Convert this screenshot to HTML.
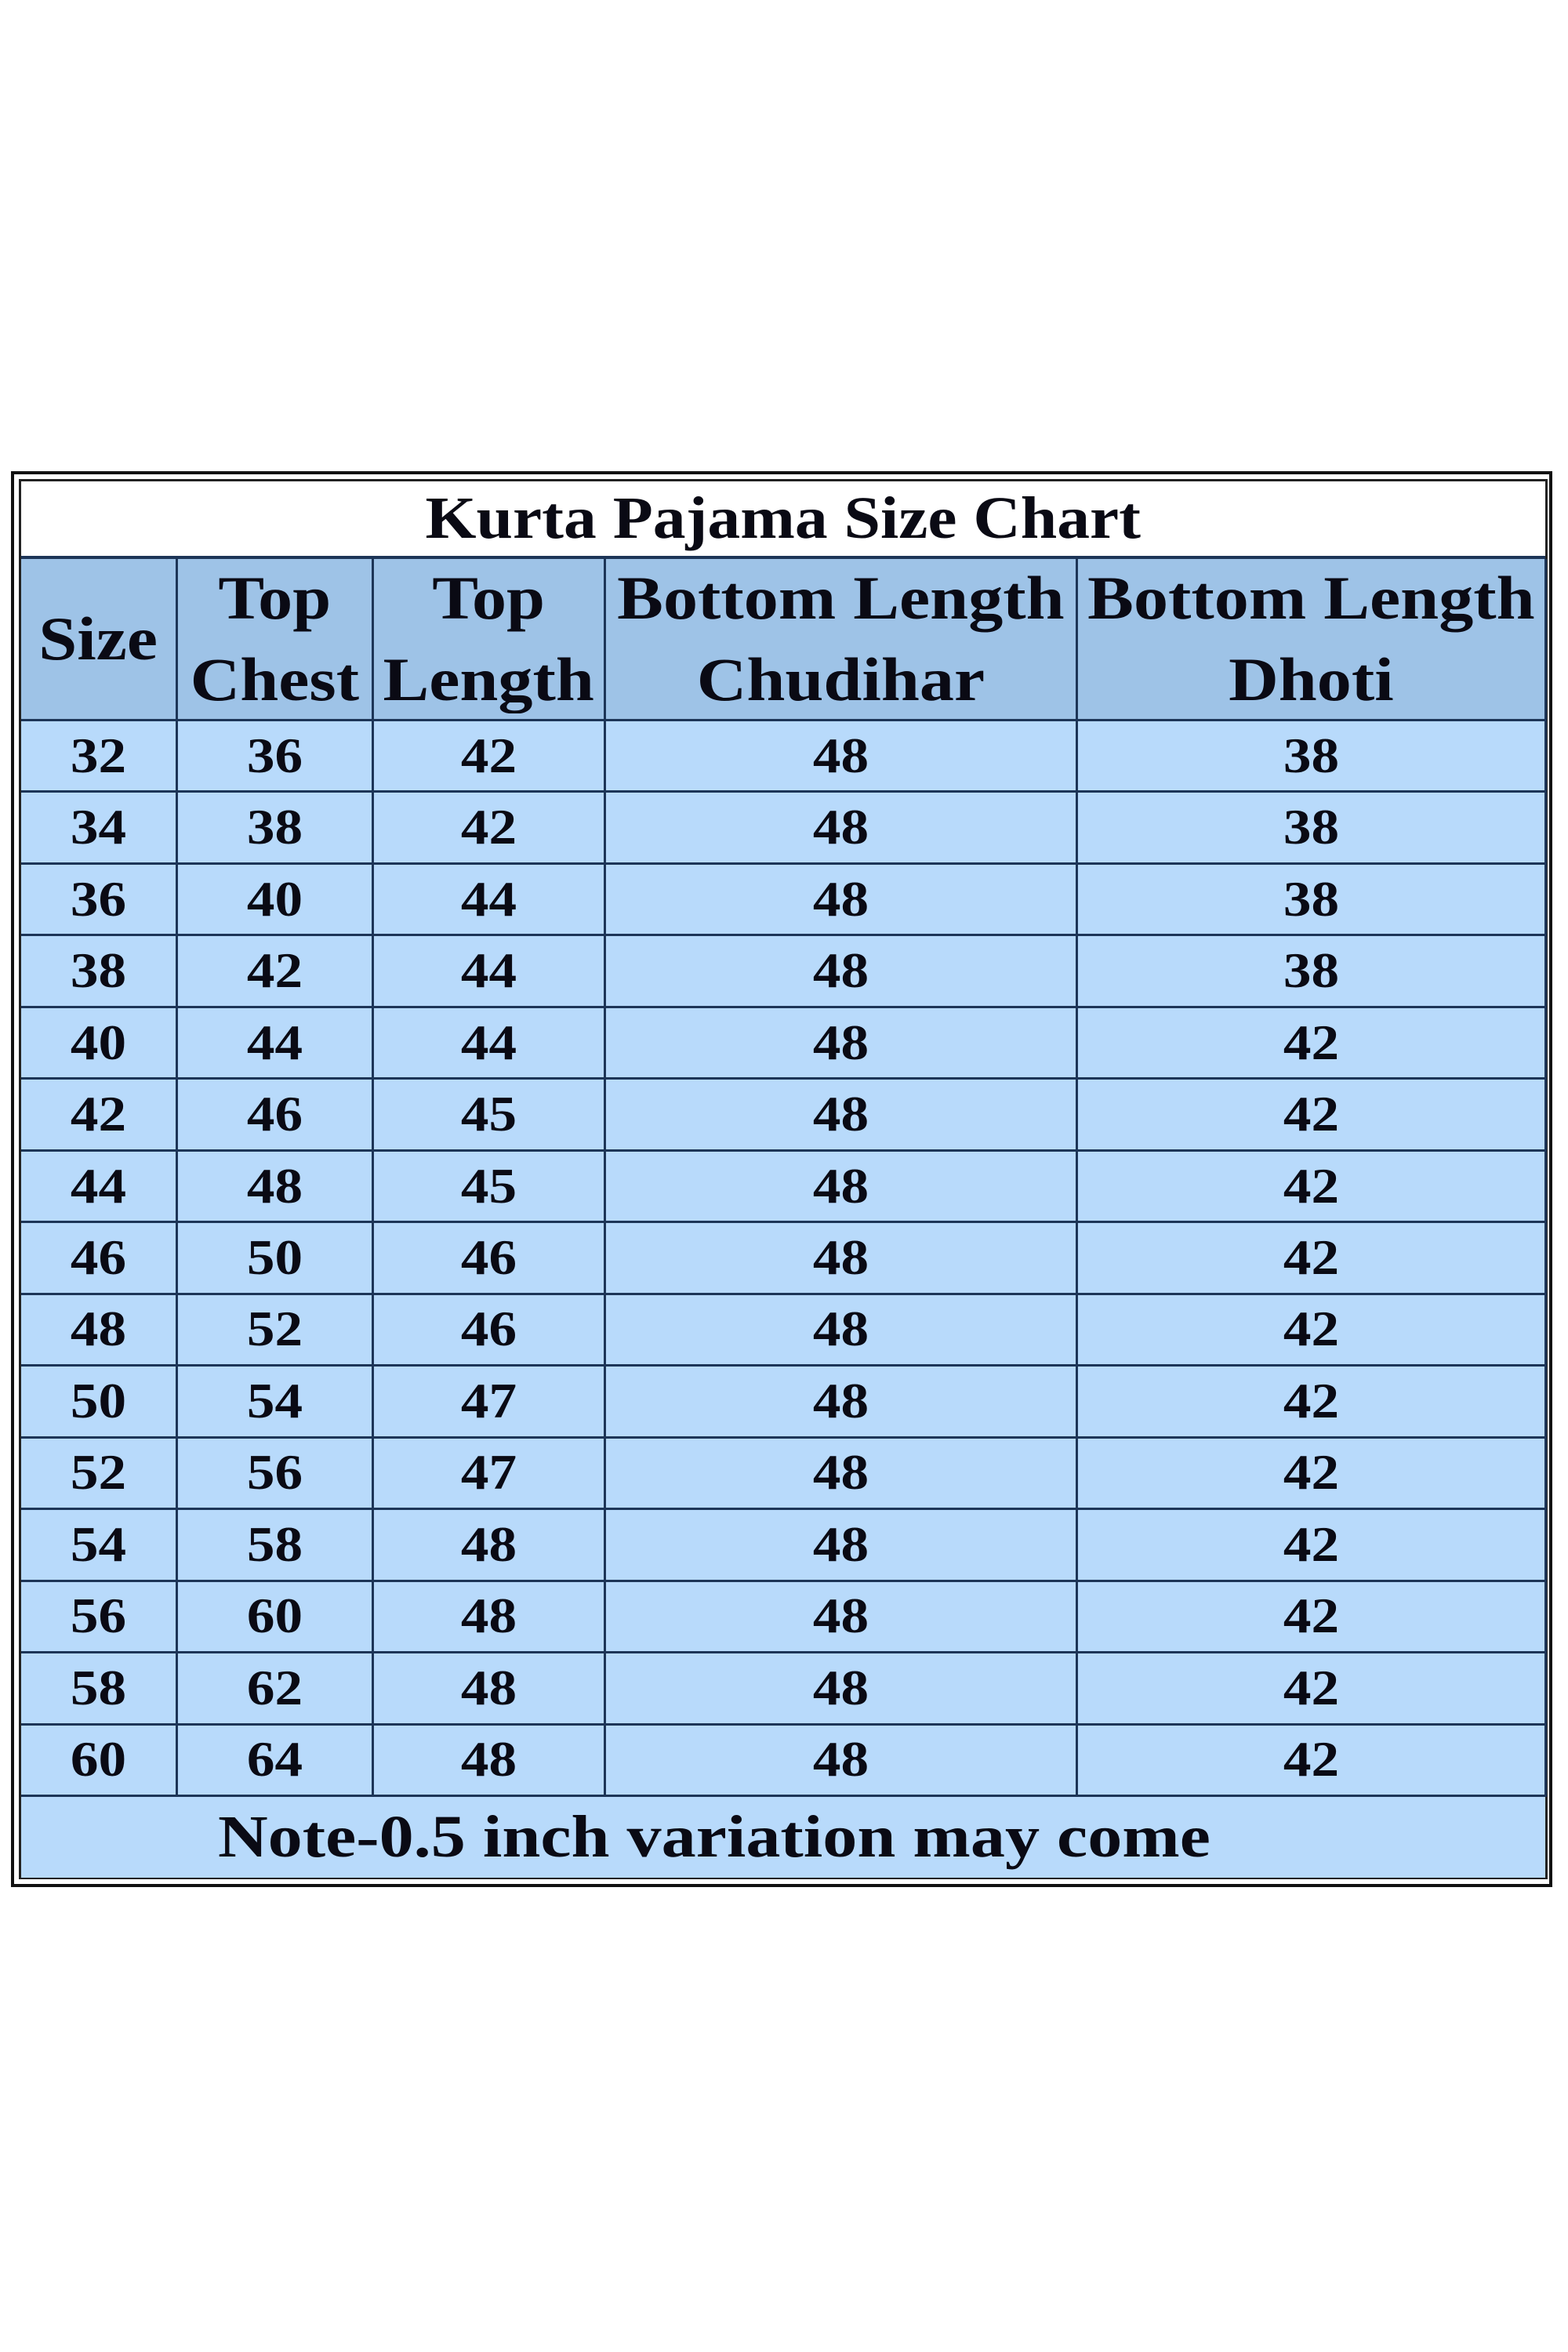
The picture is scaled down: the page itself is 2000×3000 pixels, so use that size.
<!DOCTYPE html>
<html><head><meta charset="utf-8"><style>
body{margin:0;width:2000px;height:3000px;background:#fff;position:relative;overflow:hidden;font-family:"Liberation Serif",serif;font-weight:bold;color:#0a0a14}
.outer{position:absolute;left:14px;top:601px;width:1966px;height:1806px;border:4px solid #111;box-sizing:border-box}
.inner{position:absolute;left:24px;top:611px;width:1950px;height:1786px;border:3px solid #222;box-sizing:border-box;background:#fff}
.c{position:absolute;display:flex;align-items:center;justify-content:center;text-align:center;box-sizing:border-box;border-right:3px solid #1d3557;border-bottom:3px solid #1d3557}
.h{background:#9ec3e7;font-size:78px;line-height:104px}
.d{background:#b8dafb;font-size:63px}
.s{display:inline-block;transform:scaleX(1.13)}
</style></head><body>
<div class="outer"></div>
<div class="inner"></div>
<div style="position:absolute;left:27px;top:614px;width:1944px;height:99px;display:flex;align-items:center;justify-content:center;font-size:76px;border-bottom:4px solid #1d3557;box-sizing:border-box"><span class="s" style="transform:scaleX(1.1)">Kurta Pajama Size Chart</span></div>
<div id="t"></div>
<div style="position:absolute;left:27px;top:2292px;width:1944px;height:103px;background:#b8dafb;font-size:76px;line-height:103px;padding-left:251px;box-sizing:border-box"><span class="s" style="transform:scaleX(1.16);transform-origin:left center">Note-0.5 inch variation may come</span></div>
<script>
var xs=[27,227,477,773,1375,1973];
var hd=["Size","Top<br>Chest","Top<br>Length","Bottom Length<br>Chudihar","Bottom Length<br>Dhoti"];
var rows=[[32,36,42,48,38],[34,38,42,48,38],[36,40,44,48,38],[38,42,44,48,38],[40,44,44,48,42],[42,46,45,48,42],[44,48,45,48,42],[46,50,46,48,42],[48,52,46,48,42],[50,54,47,48,42],[52,56,47,48,42],[54,58,48,48,42],[56,60,48,48,42],[58,62,48,48,42],[60,64,48,48,42]];
var h="";
for(var i=0;i<5;i++){h+='<div class="c h" style="left:'+xs[i]+'px;top:713px;width:'+(xs[i+1]-xs[i])+'px;height:207px"><span class="s">'+hd[i]+'</span></div>';}
var rh=(2292-920)/15;
for(var r=0;r<15;r++){var y=920+r*rh;for(var i=0;i<5;i++){h+='<div class="c d" style="left:'+xs[i]+'px;top:'+y+'px;width:'+(xs[i+1]-xs[i])+'px;height:'+rh+'px"><span class="s">'+rows[r][i]+'</span></div>';}}
document.getElementById('t').innerHTML=h;
</script>
</body></html>
